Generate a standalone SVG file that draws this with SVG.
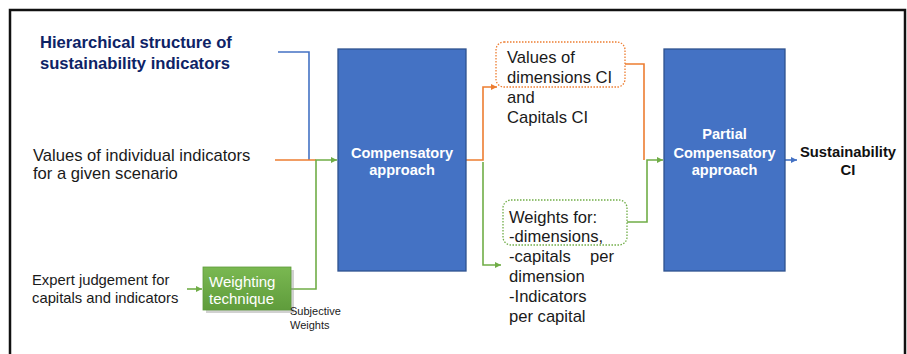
<svg xmlns="http://www.w3.org/2000/svg" width="907" height="354" viewBox="0 0 907 354">
<style>
text{font-family:"Liberation Sans",Arial,sans-serif;}
.t{font-size:16.6px;fill:#1a1a1a;}
.title{font-size:16.6px;font-weight:bold;fill:#0d2366;}
.box{fill:#4472C4;stroke:#2F528F;stroke-width:1.3;}
.bt{font-size:14.6px;font-weight:bold;fill:#ffffff;text-anchor:middle;}
.ln{fill:none;stroke-width:1.6;}
.o{stroke:#ED7D31;}
.g{stroke:#70AD47;}
.b{stroke:#4472C4;}
</style>
<defs>
<marker id="ag" viewBox="0 0 6 6" refX="6" refY="3" markerWidth="6" markerHeight="6" markerUnits="userSpaceOnUse" orient="auto"><path d="M0,0 L6,3 L0,6 z" fill="#70AD47"/></marker>
<marker id="ao" viewBox="0 0 6 6" refX="6" refY="3" markerWidth="6" markerHeight="6" markerUnits="userSpaceOnUse" orient="auto"><path d="M0,0 L6,3 L0,6 z" fill="#ED7D31"/></marker>
<marker id="ab" viewBox="0 0 6 6" refX="6" refY="3" markerWidth="6" markerHeight="6" markerUnits="userSpaceOnUse" orient="auto"><path d="M0,0 L6,3 L0,6 z" fill="#4472C4"/></marker>
<linearGradient id="gw" x1="0" y1="0" x2="0" y2="1"><stop offset="0" stop-color="#7AB851"/><stop offset="1" stop-color="#5F9C3C"/></linearGradient>
</defs>
<rect x="0" y="0" width="907" height="354" fill="#ffffff"/>
<rect x="10" y="10" width="895" height="360" fill="none" stroke="#111111" stroke-width="2.5"/>

<g id="connectors">
<polyline class="ln b" points="278,52 309,52 309,160"/>
<polyline class="ln o" points="275,160 316,160"/>
<polyline class="ln g" points="291,289 316,289 316,160 337,160" marker-end="url(#ag)"/>
<polyline class="ln g" points="187,289 202,289" marker-end="url(#ag)"/>
<polyline class="ln o" points="466,160 483,160 483,87 497,87" marker-end="url(#ao)"/>
<polyline class="ln g" points="483,162 483,265 501,265" marker-end="url(#ag)"/>
<polyline class="ln o" points="625,64 644,64 644,160"/>
<polyline class="ln g" points="627,222 647,222 647,160 663,160" marker-end="url(#ag)"/>
<polyline class="ln b" points="785,160 797,160" marker-end="url(#ab)"/>
</g>

<g id="hierarchy">
<text class="title" x="40" y="48">Hierarchical structure of</text>
<text class="title" x="40" y="69">sustainability indicators</text>
</g>

<g id="values-individual">
<text class="t" x="33" y="161">Values of individual indicators</text>
<text class="t" x="33" y="179">for a given scenario</text>
</g>

<g id="expert">
<text class="t" style="font-size:14.8px" x="32" y="285">Expert judgement for</text>
<text class="t" style="font-size:14.8px" x="32" y="303">capitals and indicators</text>
</g>

<g id="weighting">
<rect x="206" y="270" width="88" height="43" fill="#9a9a9a" opacity="0.45"/>
<rect x="203" y="267" width="88" height="43" fill="url(#gw)" stroke="#5E9B3B" stroke-width="0.8"/>
<text x="209" y="287" style="font-size:15px;fill:#ffffff">Weighting</text>
<text x="209" y="304" style="font-size:15px;fill:#ffffff">technique</text>
</g>

<g id="subjective">
<text x="290" y="315" style="font-size:11px;fill:#1a1a1a">Subjective</text>
<text x="290" y="329" style="font-size:11px;fill:#1a1a1a">Weights</text>
</g>

<g id="compensatory">
<rect class="box" x="338" y="49" width="128" height="222"/>
<text class="bt" x="402" y="158">Compensatory</text>
<text class="bt" x="402" y="175">approach</text>
</g>

<g id="values-dimensions">
<rect x="496" y="42" width="129" height="45" rx="8" fill="none" stroke="#ED7D31" stroke-width="1.3" stroke-dasharray="1.5,1.5"/>
<text class="t" x="507" y="63">Values of</text>
<text class="t" x="507" y="83">dimensions CI</text>
<text class="t" x="507" y="103">and</text>
<text class="t" x="507" y="123">Capitals CI</text>
</g>

<g id="weights-for">
<rect x="503" y="200" width="124" height="45" rx="8" fill="none" stroke="#70AD47" stroke-width="1.3" stroke-dasharray="1.5,1.5"/>
<text class="t" x="509" y="223">Weights for:</text>
<text class="t" x="509" y="242">-dimensions,</text>
<text class="t" x="509" y="262"><tspan>-capitals </tspan><tspan x="590">per</tspan></text>
<text class="t" x="509" y="282">dimension</text>
<text class="t" x="509" y="302">-Indicators</text>
<text class="t" x="509" y="322">per capital</text>
</g>

<g id="partial">
<rect class="box" x="664" y="49" width="121" height="222"/>
<text class="bt" x="724.5" y="139">Partial</text>
<text class="bt" x="724.5" y="158">Compensatory</text>
<text class="bt" x="724.5" y="175">approach</text>
</g>

<g id="sustainability">
<text x="848" y="157" style="font-size:14.8px;font-weight:bold;fill:#111111;text-anchor:middle">Sustainability</text>
<text x="848" y="175" style="font-size:14.8px;font-weight:bold;fill:#111111;text-anchor:middle">CI</text>
</g>
</svg>
